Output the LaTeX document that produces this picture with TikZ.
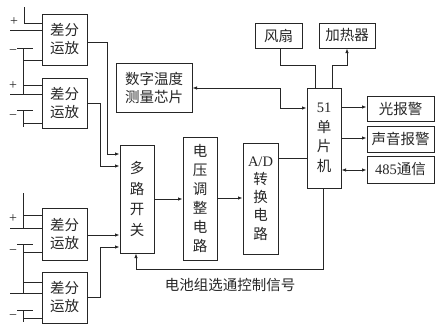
\documentclass[tikz,border=0pt]{standalone}
\usepackage{fontspec}
\setmainfont{Liberation Serif}
\newfontfamily\cjk{Noto Sans CJK SC}
\usetikzlibrary{arrows.meta}
\begin{document}
\begin{tikzpicture}[x=1pt,y=-1pt,
  line width=0.9pt, draw=black!85,
  box/.style={draw=black!85, line width=1pt, inner sep=0pt, align=center,
    font=\cjk\fontsize{14.5}{18}\selectfont, text=black!85},
  wire/.style={draw=black!85, line width=0.9pt},
  arr/.style={wire, -{Latex[length=4.5pt,width=3.5pt]}},
  darr/.style={wire, {Latex[length=4.5pt,width=3.5pt]}-{Latex[length=4.5pt,width=3.5pt]}},
  sign/.style={font=\fontsize{14}{14}\selectfont, text=black!85, inner sep=0pt}]
\useasboundingbox (0,0) rectangle (445,327);
% amplifiers
\node[box, minimum width=45pt, minimum height=51pt] (amp1) at (64.5,39.5) {差分\\运放};
\node[box, minimum width=45pt, minimum height=50pt] (amp2) at (64.5,103) {差分\\运放};
\node[box, minimum width=45pt, minimum height=52pt] (amp3) at (64.5,234) {差分\\运放};
\node[box, minimum width=45pt, minimum height=51pt] (amp4) at (64.5,297.5) {差分\\运放};
% chain
\node[box, minimum width=34pt, minimum height=108pt, font=\cjk\fontsize{14.5}{20.5}\selectfont] (mux) at (137,199) {多\\路\\开\\关};
\node[box, minimum width=34pt, minimum height=123pt, font=\cjk\fontsize{14.5}{19}\selectfont] (volt) at (200,198.5) {电\\压\\调\\整\\电\\路};
\node[box, minimum width=35pt, minimum height=111pt, font=\cjk\fontsize{14.5}{18.2}\selectfont] (ad) at (260.5,198.5) {{\rmfamily A/D}\\转\\换\\电\\路};
\node[box, minimum width=34pt, minimum height=100pt, font=\cjk\fontsize{14.5}{19.5}\selectfont] (mcu) at (324,138) {{\rmfamily 51}\\单\\片\\机};
\node[box, minimum width=47pt, minimum height=25pt] (fan) at (278.5,35.5) {风扇};
\node[box, minimum width=56pt, minimum height=25pt] (heat) at (347,35.5) {加热器};
\node[box, minimum width=76pt, minimum height=49pt] (temp) at (154,87.5) {数字温度\\测量芯片};
\node[box, minimum width=67pt, minimum height=25pt] (light) at (400.5,108.5) {光报警};
\node[box, minimum width=67pt, minimum height=26pt] (sound) at (400.5,139) {声音报警};
\node[box, minimum width=67pt, minimum height=27pt] (comm) at (400.5,169.5) {{\rmfamily 485}通信};
\node[font=\cjk\fontsize{14.5}{18}\selectfont, text=black!85, inner sep=0pt] (ctl) at (230,285) {电池组选通控制信号};
% battery symbols, group 1
\node[sign] (p1) at (14,22) {+};
\node[sign] (m1) at (13,52) {\textminus};
\node[sign] (p2) at (13,86) {+};
\node[sign] (m2) at (13,117) {\textminus};
\draw[wire] (24,7) -- (24,23) -- (amp1.west |- 0,23);
\draw[wire] (10,30) -- (amp1.west |- 0,30);
\draw[wire] (17,48) -- (33,48);
\draw[wire] (23,48) -- (23,94);
\draw[wire] (23,60) -- (amp1.west |- 0,60);
\draw[wire] (23,85) -- (amp2.west |- 0,85);
\draw[wire] (10,94) -- (amp2.west |- 0,94);
\draw[wire] (17,110) -- (33,110);
\draw[wire] (23,110) -- (23,127);
\draw[wire] (23,123) -- (amp2.west |- 0,123);
% battery symbols, group 2
\node[sign] (p3) at (13,219) {+};
\node[sign] (m3) at (13,252) {\textminus};
\node[sign] (m4) at (13,317) {\textminus};
\draw[wire] (23,193) -- (23,228);
\draw[wire] (23,215) -- (amp3.west |- 0,215);
\draw[wire] (10,228) -- (amp3.west |- 0,228);
\draw[wire] (17,244) -- (33,244);
\draw[wire] (23,244) -- (23,293);
\draw[wire] (23,252) -- (amp3.west |- 0,252);
\draw[wire] (23,282) -- (amp4.west |- 0,282);
\draw[wire] (10,293) -- (amp4.west |- 0,293);
\draw[wire] (17,310) -- (33,310);
\draw[wire] (23,310) -- (23,322);
\draw[wire] (23,318) -- (amp4.west |- 0,318);
% amp outputs
\draw[arr] (amp1.east |- 0,42) -- (107,42) -- (107,154) -- (mux.west |- 0,154);
\draw[arr] (amp2.east |- 0,103) -- (100,103) -- (100,166) -- (mux.west |- 0,166);
\draw[arr] (amp3.east |- 0,235) -- (mux.west |- 0,235);
\draw[arr] (amp4.east |- 0,297) -- (100,297) -- (100,247) -- (mux.west |- 0,247);
% chain
\draw[arr] (mux.east |- 0,199) -- (volt.west |- 0,199);
\draw[arr] (volt.east |- 0,198) -- (ad.west |- 0,198);
\draw[wire] (ad.east |- 0,158) -- (mcu.west |- 0,158);
% temp chip
\draw[darr] (temp.east |- 0,88) -- (280,88) -- (280,108) -- (mcu.west |- 0,108);
% fan, heater
\draw[wire] (mcu.north -| 315,0) -- (315,65) -- (280,65) -- (fan.south -| 280,0);
\draw[arr] (mcu.north -| 332,0) -- (332,65) -- (347,65) -- (heat.south);
% outputs
\draw[arr] (mcu.east |- 0,107) -- (light.west |- 0,107);
\draw[arr] (mcu.east |- 0,138) -- (sound.west |- 0,138);
\draw[darr] (mcu.east |- 0,170) -- (comm.west |- 0,170);
% control
\draw[arr] (mcu.south -| 323,0) -- (323,269) -- (136,269) -- (mux.south -| 136,0);
\end{tikzpicture}
\end{document}
